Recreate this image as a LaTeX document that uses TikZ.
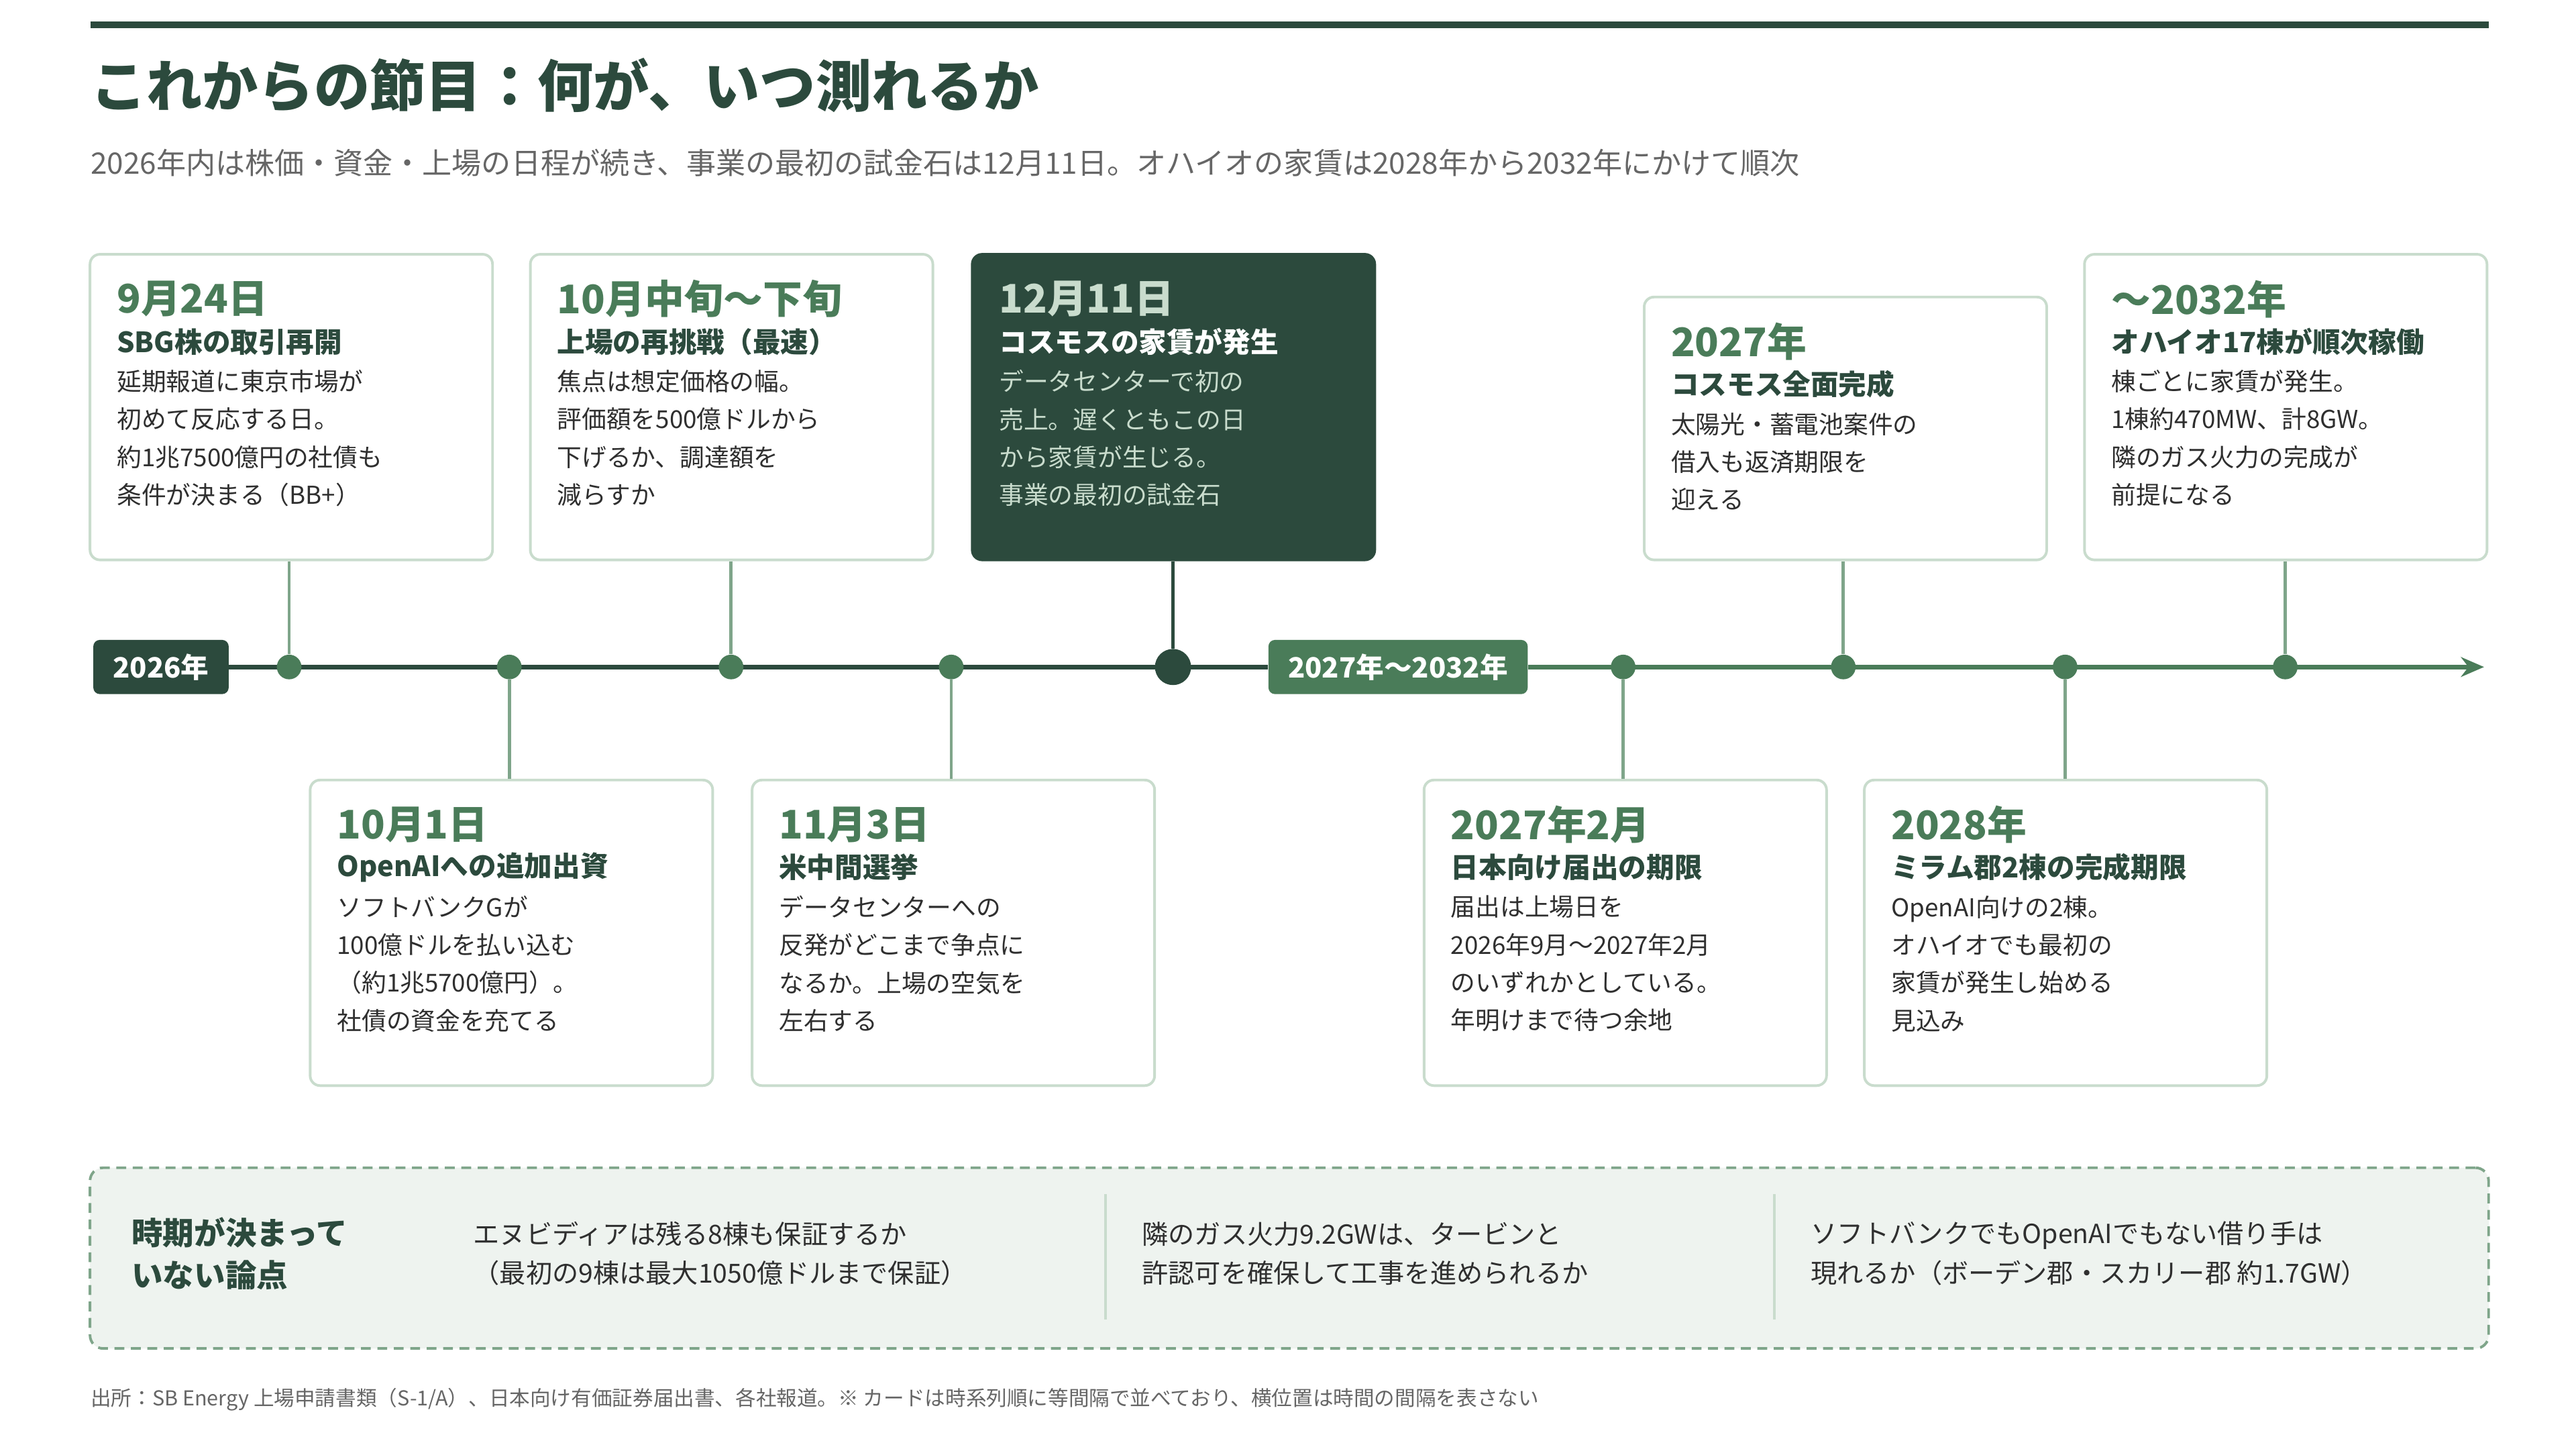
\documentclass[tikz,border=0pt]{standalone}
\usepackage{fontspec}
\setmainfont{Noto Sans CJK JP}
\usetikzlibrary{arrows.meta,positioning}
\definecolor{darkg}{HTML}{2C4A3D}
\definecolor{midg}{HTML}{4A7C59}
\definecolor{lineg}{HTML}{7FA58A}
\definecolor{edgeg}{HTML}{C9DCCD}
\definecolor{paleg}{HTML}{EEF3EF}
\definecolor{bodyc}{HTML}{2F2F2F}
\definecolor{greyc}{HTML}{666666}
\tikzset{
  card/.style={draw=edgeg, line width=1.6pt, fill=white, rounded corners=6pt,
    minimum width=245pt, anchor=north west, inner sep=0pt},
  darkcard/.style={card, draw=darkg, fill=darkg},
  date/.style={anchor=west, inner sep=0pt, text=midg, font=\fontsize{24}{24}\selectfont\bfseries},
  head/.style={anchor=west, inner sep=0pt, text=darkg, font=\fontsize{17}{17}\selectfont\bfseries},
  body/.style={anchor=north west, inner sep=0pt, text=bodyc, align=left,
    font=\fontsize{15}{23}\selectfont},
  dot/.style={circle, fill=midg, minimum size=15pt, inner sep=0pt},
  stem/.style={lineg, line width=2pt},
  tag/.style={rounded corners=4pt, text=white, font=\fontsize{17}{17}\selectfont\bfseries,
    minimum height=33pt, inner xsep=12pt}
}
% card: name, x, y, height, date, heading, body
\newcommand{\tlcard}[8][card]{%
  \node[#1, minimum height=#5pt] (#2) at (#3,#4) {};
  \node[date] at ([xshift=17pt,yshift=-28pt]#2.north west) {#6};
  \node[head] at ([xshift=17pt,yshift=-54pt]#2.north west) {#7};
  \node[body] at ([xshift=17pt,yshift=-71pt]#2.north west) {#8};}
\begin{document}
\begin{tikzpicture}[x=1pt, y=-1pt]
\useasboundingbox (0,0) rectangle (1568,882);
\fill[white] (0,0) rectangle (1568,882);

% title block
\draw[darkg, line width=4pt] (55,15) -- (1515,15);
\node[anchor=west, inner sep=0pt, text=darkg, font=\fontsize{34}{34}\selectfont\bfseries]
  (title) at (55,52) {これからの節目：何が、いつ測れるか};
\node[anchor=west, inner sep=0pt, text=greyc, font=\fontsize{18}{18}\selectfont]
  (sub) at (55,99) {2026年内は株価・資金・上場の日程が続き、事業の最初の試金石は12月11日。オハイオの家賃は2028年から2032年にかけて順次};

% timeline
\node[tag, fill=darkg] (y26) at (98,406) {2026年};
\node[tag, fill=midg] (y27) at (851,406) {2027年〜2032年};
\draw[darkg, line width=3pt] (y26) -- (y27);
\coordinate (tip) at (1512,406);
\draw[midg, line width=3pt, -{Stealth[length=14pt,width=12pt]}] (y27) -- (tip);
\foreach \x/\n in {176/d1,310/d2,445/d3,579/d4,988/d6,1122/d7,1257/d8,1391/d9}
  \node[dot] (\n) at (\x,406) {};
\node[dot, fill=darkg, minimum size=22pt] (d5) at (714,406) {};

% upper cards
\tlcard{c1}{54}{154}{186}{9月24日}{SBG株の取引再開}
  {延期報道に東京市場が\\初めて反応する日。\\約1兆7500億円の社債も\\条件が決まる（BB+）}
\tlcard{c3}{322}{154}{186}{10月中旬〜下旬}{上場の再挑戦（最速）}
  {焦点は想定価格の幅。\\評価額を500億ドルから\\下げるか、調達額を\\減らすか}
\tlcard[darkcard]{c5}{591}{154}{186}{\textcolor{edgeg}{12月11日}}{\textcolor{white}{コスモスの家賃が発生}}
  {\textcolor{edgeg}{データセンターで初の}\\\textcolor{edgeg}{売上。遅くともこの日}\\\textcolor{edgeg}{から家賃が生じる。}\\\textcolor{edgeg}{事業の最初の試金石}}
\tlcard{c7}{1000}{180}{160}{2027年}{コスモス全面完成}
  {太陽光・蓄電池案件の\\借入も返済期限を\\迎える}
\tlcard{c9}{1268}{154}{186}{〜2032年}{オハイオ17棟が順次稼働}
  {棟ごとに家賃が発生。\\1棟約470MW、計8GW。\\隣のガス火力の完成が\\前提になる}

% lower cards
\tlcard{c2}{188}{474}{186}{10月1日}{OpenAIへの追加出資}
  {ソフトバンクGが\\100億ドルを払い込む\\（約1兆5700億円）。\\社債の資金を充てる}
\tlcard{c4}{457}{474}{186}{11月3日}{米中間選挙}
  {データセンターへの\\反発がどこまで争点に\\なるか。上場の空気を\\左右する}
\tlcard{c6}{866}{474}{186}{2027年2月}{日本向け届出の期限}
  {届出は上場日を\\2026年9月〜2027年2月\\のいずれかとしている。\\年明けまで待つ余地}
\tlcard{c8}{1134}{474}{186}{2028年}{ミラム郡2棟の完成期限}
  {OpenAI向けの2棟。\\オハイオでも最初の\\家賃が発生し始める\\見込み}

% stems
\foreach \c/\d in {c1/d1,c3/d3,c7/d7,c9/d9}
  \draw[stem] (\c.south -| \d) -- (\d);
\draw[darkg, line width=2pt] (c5.south -| d5) -- (d5);
\foreach \c/\d in {c2/d2,c4/d4,c6/d6,c8/d8}
  \draw[stem] (\d) -- (\c.north -| \d);

% open issues
\node[draw=lineg, dashed, dash pattern=on 6pt off 4pt, line width=1.6pt, fill=paleg,
  rounded corners=8pt, minimum width=1460pt, minimum height=110pt, anchor=north west]
  (open) at (54,710) {};
\node[anchor=west, inner sep=0pt, text=darkg, align=left,
  font=\fontsize{19}{26}\selectfont\bfseries] (openlbl) at (80,763) {時期が決まって\\いない論点};
\tikzset{issue/.style={anchor=west, inner sep=0pt, text=bodyc, align=left,
  font=\fontsize{16}{24}\selectfont}}
\node[issue] (i1) at (288,763) {エヌビディアは残る8棟も保証するか\\（最初の9棟は最大1050億ドルまで保証）};
\node[issue] (i2) at (695,763) {隣のガス火力9.2GWは、タービンと\\許認可を確保して工事を進められるか};
\node[issue] (i3) at (1102,763) {ソフトバンクでもOpenAIでもない借り手は\\現れるか（ボーデン郡・スカリー郡 約1.7GW）};
\draw[edgeg, line width=1.6pt] (673,727) -- (673,803);
\draw[edgeg, line width=1.6pt] (1080,727) -- (1080,803);

% source
\node[anchor=west, inner sep=0pt, text=greyc, font=\fontsize{12.5}{12.5}\selectfont]
  (src) at (55,852) {出所：SB Energy 上場申請書類（S-1/A）、日本向け有価証券届出書、各社報道。※ カードは時系列順に等間隔で並べており、横位置は時間の間隔を表さない};
\end{tikzpicture}
\end{document}
